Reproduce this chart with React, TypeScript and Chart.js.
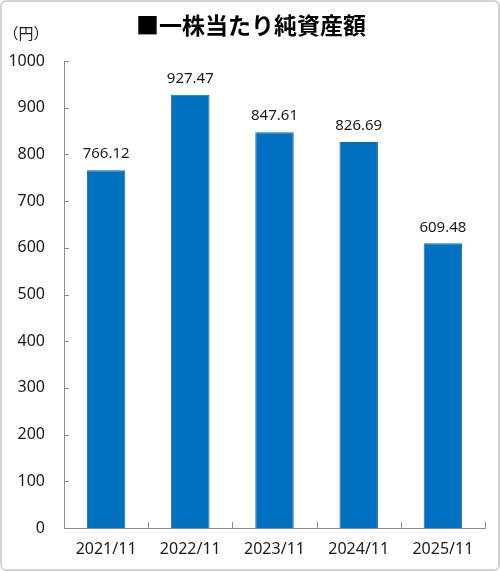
import { useEffect, useRef } from "react"
import { Chart, registerables } from "chart.js"

Chart.register(...registerables)

const TITLE = "■一株当たり純資産額"
const UNIT = "（円）"
const categories = ["2021/11", "2022/11", "2023/11", "2024/11", "2025/11"]
const bookValuePerShare = [766.12, 927.47, 847.61, 826.69, 609.48]
const yMin = 0
const yMax = 1000
const yStep = 100

const FONT = "'Noto Sans', 'Noto Sans CJK JP', sans-serif"
const JP_FONT = "'Noto Sans CJK JP', sans-serif"
const TEXT = "#1a1a1a"
const AXIS = "#8c8c8c"
const BAR = "#0070c0"

// frame, title, unit, inner tick marks, value labels
const decorations = {
  id: "decorations",
  beforeDraw(chart: Chart) {
    const { ctx, width, height } = chart
    ctx.save()
    ctx.fillStyle = "#fff"
    ctx.fillRect(0, 0, width, height)
    ctx.strokeStyle = "#d4d4d4"
    ctx.lineWidth = 2
    ctx.beginPath()
    ctx.roundRect(1, 1, width - 2, height - 2, 5)
    ctx.stroke()

    ctx.fillStyle = "#000"
    ctx.font = `bold 23px ${JP_FONT}`
    ctx.textAlign = "center"
    ctx.textBaseline = "middle"
    ctx.fillText(TITLE, 251, 25)

    ctx.fillStyle = TEXT
    ctx.font = `15px ${JP_FONT}`
    ctx.fillText(UNIT, 26, 33)
    ctx.restore()
  },
  afterDraw(chart: Chart) {
    const { ctx } = chart
    const x = chart.scales.x
    const y = chart.scales.y
    ctx.save()
    ctx.strokeStyle = AXIS
    ctx.lineWidth = 1
    ctx.beginPath()
    for (let v = yMin; v <= yMax; v += yStep) {
      const py = Math.round(y.getPixelForValue(v)) + 0.5
      ctx.moveTo(x.left, py)
      ctx.lineTo(x.left + 5, py)
    }
    for (let i = 0; i <= categories.length; i++) {
      const px = Math.round(x.getPixelForValue(i - 0.5)) + 0.5
      ctx.moveTo(px, y.bottom)
      ctx.lineTo(px, y.bottom - 6)
    }
    ctx.stroke()

    ctx.fillStyle = TEXT
    ctx.font = `15px ${FONT}`
    ctx.textAlign = "center"
    ctx.textBaseline = "middle"
    chart.getDatasetMeta(0).data.forEach((bar: any, i: number) => {
      ctx.fillText(bookValuePerShare[i].toFixed(2), bar.x, bar.y - 16)
    })
    ctx.restore()
  },
}

export default function App() {
  const canvasRef = useRef<HTMLCanvasElement | null>(null)

  useEffect(() => {
    document.body.style.margin = "0"
    if (!canvasRef.current) return

    const chart = new Chart(canvasRef.current, {
      type: "bar",
      data: {
        labels: categories,
        datasets: [
          {
            data: bookValuePerShare,
            backgroundColor: BAR,
            borderColor: "#1f66a8",
            borderWidth: 1,
            categoryPercentage: 1,
            barPercentage: 0.457,
          },
        ],
      },
      options: {
        responsive: false,
        animation: false,
        devicePixelRatio: 1,
        layout: { padding: { top: 61, right: 15, left: 0, bottom: 0 } },
        plugins: {
          legend: { display: false },
          title: { display: false },
          tooltip: { enabled: false },
        },
        scales: {
          x: {
            grid: { display: false, drawTicks: false },
            border: { display: true, color: AXIS, width: 1 },
            ticks: {
              color: TEXT,
              font: { family: FONT, size: 16 },
              padding: 12,
              maxRotation: 0,
            },
            afterFit: (s: any) => {
              s.height = 43
            },
          },
          y: {
            min: yMin,
            max: yMax,
            grid: { display: false, drawTicks: false },
            border: { display: true, color: AXIS, width: 1 },
            ticks: {
              stepSize: yStep,
              color: TEXT,
              font: { family: FONT, size: 16 },
              padding: 19,
              callback: (v: any) => String(v),
            },
            afterFit: (s: any) => {
              s.width = 64
            },
          },
        },
      },
      plugins: [decorations],
    })

    return () => chart.destroy()
  }, [])

  return (
    <div style={{ width: 500, height: 571 }}>
      <canvas ref={canvasRef} width={500} height={571} style={{ display: "block" }} />
    </div>
  )
}
